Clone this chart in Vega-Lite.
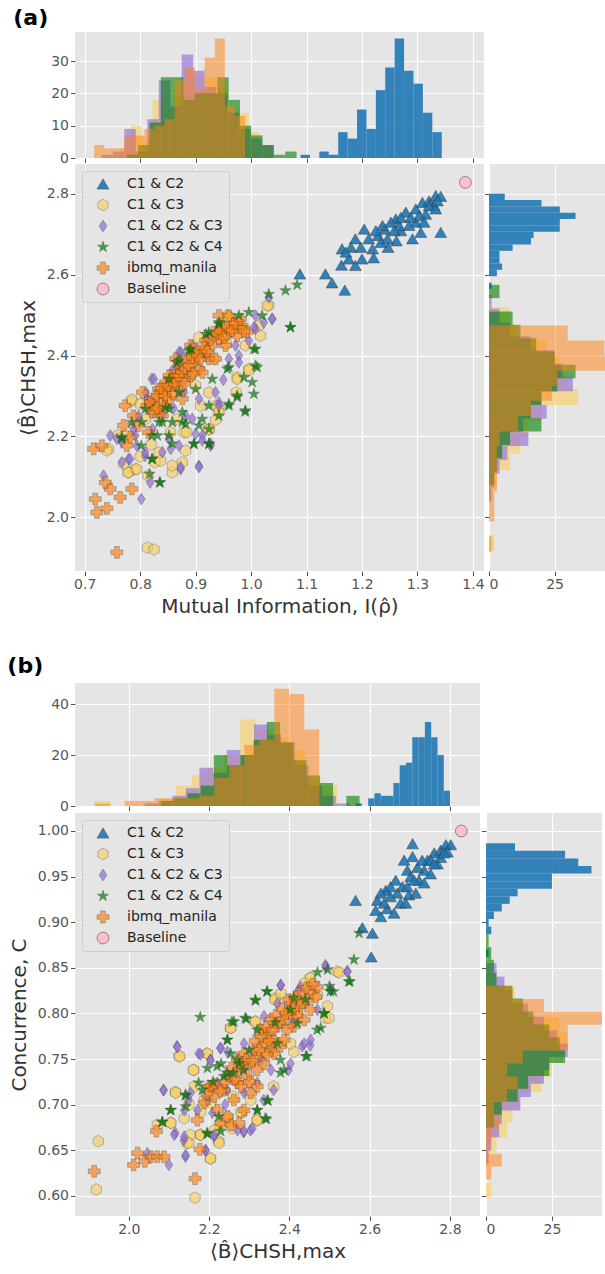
{
"$schema": "https://vega.github.io/schema/vega-lite/v6.json",
"background": "white",
"padding": {"left": 7, "top": 7, "right": 0, "bottom": 0},
"spacing": 38,
"config": {
 "font": "DejaVu Sans",
 "view": {"fill": "#e5e5e5", "stroke": null},
 "axis": {"domain": false, "grid": true, "gridColor": "#ffffff", "gridWidth": 1.1, "tickColor": "#555555", "tickSize": 4.5, "tickWidth": 1, "labelColor": "#555555", "labelFontSize": 14, "labelPadding": 2, "titleColor": "#333333", "titleFontSize": 20, "titleFontWeight": "normal", "labelFont": "DejaVu Sans", "titleFont": "DejaVu Sans"},
 "title": {"font": "DejaVu Sans"}
},
"resolve": {"scale": {"x": "independent", "y": "independent", "color": "independent", "shape": "independent", "opacity": "independent"}, "legend": {"color": "independent", "shape": "independent", "opacity": "independent"}},
"vconcat": [
{
 "title": {"text": "(a)", "anchor": "start", "fontSize": 22, "fontWeight": "bold", "color": "#000000", "dx": -5, "offset": 2},
 "columns": 2,
 "bounds": "flush",
 "spacing": {"row": 6, "column": 5},
 "resolve": {"scale": {"x": "independent", "y": "independent", "color": "independent", "shape": "independent", "opacity": "independent"}, "legend": {"color": "independent", "shape": "independent", "opacity": "independent"}},
 "concat": [
  {
   "width": 409, "height": 126,
   "data": {"name": "hMI"},
   "mark": {"type": "rect", "clip": true},
   "encoding": {
    "x": {"field": "a", "type": "quantitative", "scale": {"domain": [0.6825, 1.42], "nice": false, "zero": false}, "axis": {"values": [0.7, 0.8, 0.9, 1.0, 1.1, 1.2, 1.3, 1.4], "labels": false, "title": null}},
    "x2": {"field": "b"},
    "y": {"field": "n", "type": "quantitative", "scale": {"domain": [0, 39], "nice": false}, "axis": {"values": [0, 10, 20, 30], "title": null}},
    "y2": {"datum": 0},
    "color": {"field": "g", "type": "nominal", "scale": {"domain": ["C1 & C2", "C1 & C3", "C1 & C2 & C3", "C1 & C2 & C4", "ibmq_manila"], "range": ["#1f77b4", "#f7cf5a", "#9370db", "#008000", "#ff7f0e"]}, "legend": null},
    "opacity": {"field": "g", "type": "nominal", "scale": {"type": "ordinal", "domain": ["C1 & C2", "C1 & C3", "C1 & C2 & C3", "C1 & C2 & C4", "ibmq_manila"], "range": [0.9, 0.6, 0.65, 0.6, 0.5]}, "legend": null}
   }
  },
  {
   "width": 118, "height": 126,
   "view": {"fill": null, "stroke": null},
   "data": {"values": []},
   "mark": {"type": "point"},
   "encoding": {}
  },
  {
   "width": 409, "height": 407,
   "data": {"name": "sa"},
   "mark": {"type": "point", "filled": true, "size": 140, "stroke": "#333333", "strokeWidth": 0.5},
   "encoding": {
    "x": {"field": "x", "type": "quantitative", "scale": {"domain": [0.6825, 1.42], "nice": false, "zero": false}, "axis": {"values": [0.7, 0.8, 0.9, 1.0, 1.1, 1.2, 1.3, 1.4], "format": ".1f", "title": "Mutual Information, I(ρ̂)", "titlePadding": 5}},
    "y": {"field": "y", "type": "quantitative", "scale": {"domain": [1.867, 2.874], "nice": false, "zero": false}, "axis": {"values": [2.0, 2.2, 2.4, 2.6, 2.8], "format": ".1f", "title": "⟨B̂⟩CHSH,max", "titlePadding": 8}},
    "color": {"field": "g", "type": "nominal", "title": null, "scale": {"domain": ["C1 & C2", "C1 & C3", "C1 & C2 & C3", "C1 & C2 & C4", "ibmq_manila", "Baseline"], "range": ["#1f77b4", "#f7cf5a", "#9370db", "#008000", "#ff7f0e", "#ffc0cb"]}, "legend": {"orient": "top-left", "offset": 7, "padding": 6, "fillColor": "#e5e5e5", "strokeColor": "#cccccc", "cornerRadius": 3, "labelFontSize": 14, "labelColor": "#222222", "symbolSize": 140, "rowPadding": 7, "labelOffset": 17, "symbolOffset": 8, "symbolStrokeWidth": 0.5, "symbolStrokeColor": "#333333"}},
    "shape": {"field": "g", "type": "nominal", "title": null, "scale": {"domain": ["C1 & C2", "C1 & C3", "C1 & C2 & C3", "C1 & C2 & C4", "ibmq_manila", "Baseline"], "range": ["triangle-up", "M0,-1L0.866,-0.5L0.866,0.5L0,1L-0.866,0.5L-0.866,-0.5Z", "M0,-1L0.65,0L0,1L-0.65,0Z", "M0,-1L0.225,-0.309L0.951,-0.309L0.363,0.118L0.588,0.809L0,0.382L-0.588,0.809L-0.363,0.118L-0.951,-0.309L-0.225,-0.309Z", "cross", "circle"]}, "legend": {"orient": "top-left", "offset": 7, "padding": 6, "fillColor": "#e5e5e5", "strokeColor": "#cccccc", "cornerRadius": 3, "labelFontSize": 14, "labelColor": "#222222", "symbolSize": 140, "rowPadding": 7, "labelOffset": 17, "symbolOffset": 8, "symbolStrokeWidth": 0.5, "symbolStrokeColor": "#333333"}},
    "opacity": {"field": "g", "type": "nominal", "title": null, "scale": {"type": "ordinal", "domain": ["C1 & C2", "C1 & C3", "C1 & C2 & C3", "C1 & C2 & C4", "ibmq_manila", "Baseline"], "range": [0.9, 0.6, 0.7, 0.7, 0.65, 1]}, "legend": {"orient": "top-left", "offset": 7, "padding": 6, "fillColor": "#e5e5e5", "strokeColor": "#cccccc", "cornerRadius": 3, "labelFontSize": 14, "labelColor": "#222222", "symbolSize": 140, "rowPadding": 7, "labelOffset": 17, "symbolOffset": 8, "symbolStrokeWidth": 0.5, "symbolStrokeColor": "#333333"}}
   }
  },
  {
   "width": 118, "height": 407,
   "data": {"name": "hB"},
   "mark": {"type": "rect", "clip": true},
   "encoding": {
    "y": {"field": "a", "type": "quantitative", "scale": {"domain": [1.867, 2.874], "nice": false, "zero": false}, "axis": {"values": [2.0, 2.2, 2.4, 2.6, 2.8], "labels": false, "title": null}},
    "y2": {"field": "b"},
    "x": {"field": "n", "type": "quantitative", "scale": {"domain": [0, 45], "nice": false}, "axis": {"values": [0, 25], "title": null}},
    "x2": {"datum": 0},
    "color": {"field": "g", "type": "nominal", "scale": {"domain": ["C1 & C2", "C1 & C3", "C1 & C2 & C3", "C1 & C2 & C4", "ibmq_manila"], "range": ["#1f77b4", "#f7cf5a", "#9370db", "#008000", "#ff7f0e"]}, "legend": null},
    "opacity": {"field": "g", "type": "nominal", "scale": {"type": "ordinal", "domain": ["C1 & C2", "C1 & C3", "C1 & C2 & C3", "C1 & C2 & C4", "ibmq_manila"], "range": [0.9, 0.6, 0.65, 0.6, 0.5]}, "legend": null}
   }
  }
 ]
},
{
 "title": {"text": "(b)", "anchor": "start", "fontSize": 22, "fontWeight": "bold", "color": "#000000", "dx": -2, "offset": 5},
 "columns": 2,
 "bounds": "flush",
 "spacing": {"row": 7, "column": 6},
 "resolve": {"scale": {"x": "independent", "y": "independent", "color": "independent", "shape": "independent", "opacity": "independent"}, "legend": {"color": "independent", "shape": "independent", "opacity": "independent"}},
 "concat": [
  {
   "width": 405, "height": 123,
   "data": {"name": "hB"},
   "mark": {"type": "rect", "clip": true},
   "encoding": {
    "x": {"field": "a", "type": "quantitative", "scale": {"domain": [1.866, 2.875], "nice": false, "zero": false}, "axis": {"values": [2.0, 2.2, 2.4, 2.6, 2.8], "labels": false, "title": null}},
    "x2": {"field": "b"},
    "y": {"field": "n", "type": "quantitative", "scale": {"domain": [0, 48.3], "nice": false}, "axis": {"values": [0, 20, 40], "title": null}},
    "y2": {"datum": 0},
    "color": {"field": "g", "type": "nominal", "scale": {"domain": ["C1 & C2", "C1 & C3", "C1 & C2 & C3", "C1 & C2 & C4", "ibmq_manila"], "range": ["#1f77b4", "#f7cf5a", "#9370db", "#008000", "#ff7f0e"]}, "legend": null},
    "opacity": {"field": "g", "type": "nominal", "scale": {"type": "ordinal", "domain": ["C1 & C2", "C1 & C3", "C1 & C2 & C3", "C1 & C2 & C4", "ibmq_manila"], "range": [0.9, 0.6, 0.65, 0.6, 0.5]}, "legend": null}
   }
  },
  {
   "width": 116, "height": 123,
   "view": {"fill": null, "stroke": null},
   "data": {"values": []},
   "mark": {"type": "point"},
   "encoding": {}
  },
  {
   "width": 405, "height": 403,
   "data": {"name": "sb"},
   "mark": {"type": "point", "filled": true, "size": 140, "stroke": "#333333", "strokeWidth": 0.5},
   "encoding": {
    "x": {"field": "x", "type": "quantitative", "scale": {"domain": [1.866, 2.875], "nice": false, "zero": false}, "axis": {"values": [2.0, 2.2, 2.4, 2.6, 2.8], "format": ".1f", "title": "⟨B̂⟩CHSH,max", "titlePadding": 5}},
    "y": {"field": "y", "type": "quantitative", "scale": {"domain": [0.578, 1.0197], "nice": false, "zero": false}, "axis": {"values": [0.6, 0.65, 0.7, 0.75, 0.8, 0.85, 0.9, 0.95, 1.0], "format": ".2f", "title": "Concurrence, C", "titlePadding": 8}},
    "color": {"field": "g", "type": "nominal", "title": null, "scale": {"domain": ["C1 & C2", "C1 & C3", "C1 & C2 & C3", "C1 & C2 & C4", "ibmq_manila", "Baseline"], "range": ["#1f77b4", "#f7cf5a", "#9370db", "#008000", "#ff7f0e", "#ffc0cb"]}, "legend": {"orient": "top-left", "offset": 7, "padding": 6, "fillColor": "#e5e5e5", "strokeColor": "#cccccc", "cornerRadius": 3, "labelFontSize": 14, "labelColor": "#222222", "symbolSize": 140, "rowPadding": 7, "labelOffset": 17, "symbolOffset": 8, "symbolStrokeWidth": 0.5, "symbolStrokeColor": "#333333"}},
    "shape": {"field": "g", "type": "nominal", "title": null, "scale": {"domain": ["C1 & C2", "C1 & C3", "C1 & C2 & C3", "C1 & C2 & C4", "ibmq_manila", "Baseline"], "range": ["triangle-up", "M0,-1L0.866,-0.5L0.866,0.5L0,1L-0.866,0.5L-0.866,-0.5Z", "M0,-1L0.65,0L0,1L-0.65,0Z", "M0,-1L0.225,-0.309L0.951,-0.309L0.363,0.118L0.588,0.809L0,0.382L-0.588,0.809L-0.363,0.118L-0.951,-0.309L-0.225,-0.309Z", "cross", "circle"]}, "legend": {"orient": "top-left", "offset": 7, "padding": 6, "fillColor": "#e5e5e5", "strokeColor": "#cccccc", "cornerRadius": 3, "labelFontSize": 14, "labelColor": "#222222", "symbolSize": 140, "rowPadding": 7, "labelOffset": 17, "symbolOffset": 8, "symbolStrokeWidth": 0.5, "symbolStrokeColor": "#333333"}},
    "opacity": {"field": "g", "type": "nominal", "title": null, "scale": {"type": "ordinal", "domain": ["C1 & C2", "C1 & C3", "C1 & C2 & C3", "C1 & C2 & C4", "ibmq_manila", "Baseline"], "range": [0.9, 0.6, 0.7, 0.7, 0.65, 1]}, "legend": {"orient": "top-left", "offset": 7, "padding": 6, "fillColor": "#e5e5e5", "strokeColor": "#cccccc", "cornerRadius": 3, "labelFontSize": 14, "labelColor": "#222222", "symbolSize": 140, "rowPadding": 7, "labelOffset": 17, "symbolOffset": 8, "symbolStrokeWidth": 0.5, "symbolStrokeColor": "#333333"}}
   }
  },
  {
   "width": 116, "height": 403,
   "data": {"name": "hC"},
   "mark": {"type": "rect", "clip": true},
   "encoding": {
    "y": {"field": "a", "type": "quantitative", "scale": {"domain": [0.578, 1.0197], "nice": false, "zero": false}, "axis": {"values": [0.6, 0.65, 0.7, 0.75, 0.8, 0.85, 0.9, 0.95, 1.0], "labels": false, "title": null}},
    "y2": {"field": "b"},
    "x": {"field": "n", "type": "quantitative", "scale": {"domain": [0, 44], "nice": false}, "axis": {"values": [0, 25], "title": null}},
    "x2": {"datum": 0},
    "color": {"field": "g", "type": "nominal", "scale": {"domain": ["C1 & C2", "C1 & C3", "C1 & C2 & C3", "C1 & C2 & C4", "ibmq_manila"], "range": ["#1f77b4", "#f7cf5a", "#9370db", "#008000", "#ff7f0e"]}, "legend": null},
    "opacity": {"field": "g", "type": "nominal", "scale": {"type": "ordinal", "domain": ["C1 & C2", "C1 & C3", "C1 & C2 & C3", "C1 & C2 & C4", "ibmq_manila"], "range": [0.9, 0.6, 0.65, 0.6, 0.5]}, "legend": null}
   }
  }
 ]
}
],
"datasets": {
"hMI": [
{"g":"C1 & C2","a":1.0892,"b":1.1062,"n":1},{"g":"C1 & C2","a":1.1231,"b":1.1401,"n":2},{"g":"C1 & C2","a":1.1401,"b":1.1571,"n":1},{"g":"C1 & C2","a":1.1571,"b":1.174,"n":8},{"g":"C1 & C2","a":1.174,"b":1.191,"n":6},{"g":"C1 & C2","a":1.191,"b":1.208,"n":15},{"g":"C1 & C2","a":1.208,"b":1.225,"n":9},{"g":"C1 & C2","a":1.225,"b":1.2419,"n":21},{"g":"C1 & C2","a":1.2419,"b":1.2589,"n":28},{"g":"C1 & C2","a":1.2589,"b":1.2759,"n":37},{"g":"C1 & C2","a":1.2759,"b":1.2928,"n":27},{"g":"C1 & C2","a":1.2928,"b":1.3098,"n":23},{"g":"C1 & C2","a":1.3098,"b":1.3268,"n":14},{"g":"C1 & C2","a":1.3268,"b":1.3438,"n":8},
{"g":"C1 & C3","a":0.745,"b":0.7643,"n":1},{"g":"C1 & C3","a":0.7643,"b":0.7836,"n":3},{"g":"C1 & C3","a":0.7836,"b":0.8029,"n":10},{"g":"C1 & C3","a":0.8029,"b":0.8222,"n":6},{"g":"C1 & C3","a":0.8222,"b":0.8415,"n":18},{"g":"C1 & C3","a":0.8415,"b":0.8608,"n":15},{"g":"C1 & C3","a":0.8608,"b":0.8801,"n":20},{"g":"C1 & C3","a":0.8801,"b":0.8994,"n":24},{"g":"C1 & C3","a":0.8994,"b":0.9187,"n":26},{"g":"C1 & C3","a":0.9187,"b":0.938,"n":25},{"g":"C1 & C3","a":0.938,"b":0.9573,"n":22},{"g":"C1 & C3","a":0.9573,"b":0.9766,"n":14},{"g":"C1 & C3","a":0.9766,"b":0.9959,"n":14},{"g":"C1 & C3","a":0.9959,"b":1.0152,"n":8},{"g":"C1 & C3","a":1.0152,"b":1.0345,"n":4},
{"g":"C1 & C2 & C3","a":0.73,"b":0.7507,"n":1},{"g":"C1 & C2 & C3","a":0.7507,"b":0.7714,"n":2},{"g":"C1 & C2 & C3","a":0.7714,"b":0.7921,"n":9},{"g":"C1 & C2 & C3","a":0.7921,"b":0.8128,"n":2},{"g":"C1 & C2 & C3","a":0.8128,"b":0.8335,"n":12},{"g":"C1 & C2 & C3","a":0.8335,"b":0.8542,"n":24},{"g":"C1 & C2 & C3","a":0.8542,"b":0.8749,"n":16},{"g":"C1 & C2 & C3","a":0.8749,"b":0.8956,"n":32},{"g":"C1 & C2 & C3","a":0.8956,"b":0.9163,"n":27},{"g":"C1 & C2 & C3","a":0.9163,"b":0.937,"n":22},{"g":"C1 & C2 & C3","a":0.937,"b":0.9577,"n":20},{"g":"C1 & C2 & C3","a":0.9577,"b":0.9784,"n":14},{"g":"C1 & C2 & C3","a":0.9784,"b":0.9991,"n":9},{"g":"C1 & C2 & C3","a":0.9991,"b":1.0198,"n":6},{"g":"C1 & C2 & C3","a":1.0198,"b":1.0405,"n":4},
{"g":"C1 & C2 & C4","a":0.776,"b":0.7964,"n":1},{"g":"C1 & C2 & C4","a":0.7964,"b":0.8168,"n":4},{"g":"C1 & C2 & C4","a":0.8168,"b":0.8372,"n":11},{"g":"C1 & C2 & C4","a":0.8372,"b":0.8576,"n":25},{"g":"C1 & C2 & C4","a":0.8576,"b":0.878,"n":25},{"g":"C1 & C2 & C4","a":0.878,"b":0.8984,"n":18},{"g":"C1 & C2 & C4","a":0.8984,"b":0.9188,"n":20},{"g":"C1 & C2 & C4","a":0.9188,"b":0.9392,"n":20},{"g":"C1 & C2 & C4","a":0.9392,"b":0.9596,"n":25},{"g":"C1 & C2 & C4","a":0.9596,"b":0.98,"n":18},{"g":"C1 & C2 & C4","a":0.98,"b":1.0004,"n":10},{"g":"C1 & C2 & C4","a":1.0004,"b":1.0208,"n":7},{"g":"C1 & C2 & C4","a":1.0208,"b":1.0412,"n":4},{"g":"C1 & C2 & C4","a":1.0412,"b":1.0616,"n":1},{"g":"C1 & C2 & C4","a":1.0616,"b":1.082,"n":2},
{"g":"ibmq_manila","a":0.717,"b":0.7351,"n":4},{"g":"ibmq_manila","a":0.7351,"b":0.7533,"n":3},{"g":"ibmq_manila","a":0.7533,"b":0.7714,"n":3},{"g":"ibmq_manila","a":0.7714,"b":0.7895,"n":7},{"g":"ibmq_manila","a":0.7895,"b":0.8077,"n":7},{"g":"ibmq_manila","a":0.8077,"b":0.8258,"n":9},{"g":"ibmq_manila","a":0.8258,"b":0.8439,"n":10},{"g":"ibmq_manila","a":0.8439,"b":0.862,"n":12},{"g":"ibmq_manila","a":0.862,"b":0.8802,"n":24},{"g":"ibmq_manila","a":0.8802,"b":0.8983,"n":28},{"g":"ibmq_manila","a":0.8983,"b":0.9164,"n":21},{"g":"ibmq_manila","a":0.9164,"b":0.9346,"n":31},{"g":"ibmq_manila","a":0.9346,"b":0.9527,"n":37},{"g":"ibmq_manila","a":0.9527,"b":0.9708,"n":16},{"g":"ibmq_manila","a":0.9708,"b":0.989,"n":13}
],
"hB": [
{"g":"C1 & C2","a":2.565,"b":2.5807,"n":1},{"g":"C1 & C2","a":2.5964,"b":2.6121,"n":3},{"g":"C1 & C2","a":2.6121,"b":2.6278,"n":5},{"g":"C1 & C2","a":2.6278,"b":2.6435,"n":4},{"g":"C1 & C2","a":2.6435,"b":2.6592,"n":4},{"g":"C1 & C2","a":2.6592,"b":2.6749,"n":9},{"g":"C1 & C2","a":2.6749,"b":2.6906,"n":16},{"g":"C1 & C2","a":2.6906,"b":2.7063,"n":17},{"g":"C1 & C2","a":2.7063,"b":2.722,"n":27},{"g":"C1 & C2","a":2.722,"b":2.7377,"n":27},{"g":"C1 & C2","a":2.7377,"b":2.7534,"n":33},{"g":"C1 & C2","a":2.7534,"b":2.7691,"n":27},{"g":"C1 & C2","a":2.7691,"b":2.7848,"n":20},{"g":"C1 & C2","a":2.7848,"b":2.8005,"n":6},
{"g":"C1 & C3","a":1.915,"b":1.9553,"n":2},{"g":"C1 & C3","a":2.0359,"b":2.0762,"n":1},{"g":"C1 & C3","a":2.0762,"b":2.1165,"n":3},{"g":"C1 & C3","a":2.1165,"b":2.1568,"n":8},{"g":"C1 & C3","a":2.1568,"b":2.1971,"n":12},{"g":"C1 & C3","a":2.1971,"b":2.2374,"n":15},{"g":"C1 & C3","a":2.2374,"b":2.2777,"n":20},{"g":"C1 & C3","a":2.2777,"b":2.318,"n":34},{"g":"C1 & C3","a":2.318,"b":2.3583,"n":30},{"g":"C1 & C3","a":2.3583,"b":2.3986,"n":27},{"g":"C1 & C3","a":2.3986,"b":2.4389,"n":22},{"g":"C1 & C3","a":2.4389,"b":2.4792,"n":10},{"g":"C1 & C3","a":2.4792,"b":2.5195,"n":8},
{"g":"C1 & C2 & C3","a":2.04,"b":2.074,"n":1},{"g":"C1 & C2 & C3","a":2.074,"b":2.108,"n":2},{"g":"C1 & C2 & C3","a":2.108,"b":2.142,"n":4},{"g":"C1 & C2 & C3","a":2.142,"b":2.176,"n":7},{"g":"C1 & C2 & C3","a":2.176,"b":2.21,"n":15},{"g":"C1 & C2 & C3","a":2.21,"b":2.244,"n":13},{"g":"C1 & C2 & C3","a":2.244,"b":2.278,"n":22},{"g":"C1 & C2 & C3","a":2.278,"b":2.312,"n":20},{"g":"C1 & C2 & C3","a":2.312,"b":2.346,"n":32},{"g":"C1 & C2 & C3","a":2.346,"b":2.38,"n":28},{"g":"C1 & C2 & C3","a":2.38,"b":2.414,"n":25},{"g":"C1 & C2 & C3","a":2.414,"b":2.448,"n":16},{"g":"C1 & C2 & C3","a":2.448,"b":2.482,"n":8},{"g":"C1 & C2 & C3","a":2.482,"b":2.516,"n":4},{"g":"C1 & C2 & C3","a":2.516,"b":2.55,"n":1},
{"g":"C1 & C2 & C4","a":2.08,"b":2.113,"n":2},{"g":"C1 & C2 & C4","a":2.113,"b":2.146,"n":3},{"g":"C1 & C2 & C4","a":2.146,"b":2.179,"n":5},{"g":"C1 & C2 & C4","a":2.179,"b":2.212,"n":8},{"g":"C1 & C2 & C4","a":2.212,"b":2.245,"n":20},{"g":"C1 & C2 & C4","a":2.245,"b":2.278,"n":16},{"g":"C1 & C2 & C4","a":2.278,"b":2.311,"n":20},{"g":"C1 & C2 & C4","a":2.311,"b":2.344,"n":26},{"g":"C1 & C2 & C4","a":2.344,"b":2.377,"n":33},{"g":"C1 & C2 & C4","a":2.377,"b":2.41,"n":25},{"g":"C1 & C2 & C4","a":2.41,"b":2.443,"n":18},{"g":"C1 & C2 & C4","a":2.443,"b":2.476,"n":12},{"g":"C1 & C2 & C4","a":2.476,"b":2.509,"n":9},{"g":"C1 & C2 & C4","a":2.542,"b":2.575,"n":4},
{"g":"ibmq_manila","a":1.915,"b":1.9523,"n":1},{"g":"ibmq_manila","a":1.9896,"b":2.0269,"n":2},{"g":"ibmq_manila","a":2.0269,"b":2.0642,"n":2},{"g":"ibmq_manila","a":2.0642,"b":2.1015,"n":3},{"g":"ibmq_manila","a":2.1015,"b":2.1388,"n":3},{"g":"ibmq_manila","a":2.1388,"b":2.1761,"n":3},{"g":"ibmq_manila","a":2.1761,"b":2.2134,"n":4},{"g":"ibmq_manila","a":2.2134,"b":2.2507,"n":11},{"g":"ibmq_manila","a":2.2507,"b":2.288,"n":16},{"g":"ibmq_manila","a":2.288,"b":2.3253,"n":24},{"g":"ibmq_manila","a":2.3253,"b":2.3626,"n":26},{"g":"ibmq_manila","a":2.3626,"b":2.3999,"n":46},{"g":"ibmq_manila","a":2.3999,"b":2.4372,"n":44},{"g":"ibmq_manila","a":2.4372,"b":2.4745,"n":30}
],
"hC": [
{"g":"C1 & C2","a":0.862,"b":0.8703,"n":1},{"g":"C1 & C2","a":0.8869,"b":0.8952,"n":2},{"g":"C1 & C2","a":0.8952,"b":0.9035,"n":1},{"g":"C1 & C2","a":0.9035,"b":0.9118,"n":3},{"g":"C1 & C2","a":0.9118,"b":0.9201,"n":6},{"g":"C1 & C2","a":0.9201,"b":0.9284,"n":9},{"g":"C1 & C2","a":0.9284,"b":0.9367,"n":12},{"g":"C1 & C2","a":0.9367,"b":0.945,"n":25},{"g":"C1 & C2","a":0.945,"b":0.9533,"n":25},{"g":"C1 & C2","a":0.9533,"b":0.9616,"n":40},{"g":"C1 & C2","a":0.9616,"b":0.9699,"n":35},{"g":"C1 & C2","a":0.9699,"b":0.9782,"n":30},{"g":"C1 & C2","a":0.9782,"b":0.9865,"n":11},
{"g":"C1 & C3","a":0.598,"b":0.6145,"n":2},{"g":"C1 & C3","a":0.631,"b":0.6475,"n":1},{"g":"C1 & C3","a":0.6475,"b":0.664,"n":4},{"g":"C1 & C3","a":0.664,"b":0.6805,"n":8},{"g":"C1 & C3","a":0.6805,"b":0.697,"n":10},{"g":"C1 & C3","a":0.697,"b":0.7135,"n":13},{"g":"C1 & C3","a":0.7135,"b":0.73,"n":21},{"g":"C1 & C3","a":0.73,"b":0.7465,"n":25},{"g":"C1 & C3","a":0.7465,"b":0.763,"n":29},{"g":"C1 & C3","a":0.763,"b":0.7795,"n":31},{"g":"C1 & C3","a":0.7795,"b":0.796,"n":28},{"g":"C1 & C3","a":0.796,"b":0.8125,"n":15},{"g":"C1 & C3","a":0.8125,"b":0.829,"n":11},{"g":"C1 & C3","a":0.829,"b":0.8455,"n":2},
{"g":"C1 & C2 & C3","a":0.635,"b":0.6497,"n":1},{"g":"C1 & C2 & C3","a":0.6497,"b":0.6643,"n":2},{"g":"C1 & C2 & C3","a":0.6643,"b":0.679,"n":5},{"g":"C1 & C2 & C3","a":0.679,"b":0.6937,"n":6},{"g":"C1 & C2 & C3","a":0.6937,"b":0.7084,"n":13},{"g":"C1 & C2 & C3","a":0.7084,"b":0.723,"n":17},{"g":"C1 & C2 & C3","a":0.723,"b":0.7377,"n":22},{"g":"C1 & C2 & C3","a":0.7377,"b":0.7524,"n":24},{"g":"C1 & C2 & C3","a":0.7524,"b":0.767,"n":31},{"g":"C1 & C2 & C3","a":0.767,"b":0.7817,"n":27},{"g":"C1 & C2 & C3","a":0.7817,"b":0.7964,"n":22},{"g":"C1 & C2 & C3","a":0.7964,"b":0.811,"n":16},{"g":"C1 & C2 & C3","a":0.811,"b":0.8257,"n":10},{"g":"C1 & C2 & C3","a":0.8257,"b":0.8404,"n":7},{"g":"C1 & C2 & C3","a":0.8404,"b":0.8551,"n":4},
{"g":"C1 & C2 & C4","a":0.675,"b":0.6891,"n":3},{"g":"C1 & C2 & C4","a":0.6891,"b":0.7033,"n":6},{"g":"C1 & C2 & C4","a":0.7033,"b":0.7174,"n":12},{"g":"C1 & C2 & C4","a":0.7174,"b":0.7315,"n":16},{"g":"C1 & C2 & C4","a":0.7315,"b":0.7457,"n":24},{"g":"C1 & C2 & C4","a":0.7457,"b":0.7598,"n":30},{"g":"C1 & C2 & C4","a":0.7598,"b":0.7739,"n":28},{"g":"C1 & C2 & C4","a":0.7739,"b":0.788,"n":24},{"g":"C1 & C2 & C4","a":0.788,"b":0.8022,"n":18},{"g":"C1 & C2 & C4","a":0.8022,"b":0.8163,"n":14},{"g":"C1 & C2 & C4","a":0.8163,"b":0.8304,"n":10},{"g":"C1 & C2 & C4","a":0.8304,"b":0.8446,"n":4},{"g":"C1 & C2 & C4","a":0.8446,"b":0.8587,"n":3},{"g":"C1 & C2 & C4","a":0.8587,"b":0.8728,"n":2},{"g":"C1 & C2 & C4","a":0.8728,"b":0.887,"n":1},
{"g":"ibmq_manila","a":0.618,"b":0.6321,"n":2},{"g":"ibmq_manila","a":0.6321,"b":0.6463,"n":6},{"g":"ibmq_manila","a":0.6463,"b":0.6604,"n":1},{"g":"ibmq_manila","a":0.6604,"b":0.6745,"n":2},{"g":"ibmq_manila","a":0.6745,"b":0.6887,"n":5},{"g":"ibmq_manila","a":0.6887,"b":0.7028,"n":3},{"g":"ibmq_manila","a":0.7028,"b":0.7169,"n":8},{"g":"ibmq_manila","a":0.7169,"b":0.731,"n":12},{"g":"ibmq_manila","a":0.731,"b":0.7452,"n":8},{"g":"ibmq_manila","a":0.7452,"b":0.7593,"n":14},{"g":"ibmq_manila","a":0.7593,"b":0.7734,"n":31},{"g":"ibmq_manila","a":0.7734,"b":0.7876,"n":31},{"g":"ibmq_manila","a":0.7876,"b":0.8017,"n":45},{"g":"ibmq_manila","a":0.8017,"b":0.8158,"n":22},{"g":"ibmq_manila","a":0.8158,"b":0.83,"n":10}
],
"sa": [
{"g":"C1 & C2","x":1.088,"y":2.602},{"g":"C1 & C2","x":1.134,"y":2.602},{"g":"C1 & C2","x":1.146,"y":2.58},{"g":"C1 & C2","x":1.169,"y":2.562},{"g":"C1 & C2","x":1.164,"y":2.664},{"g":"C1 & C2","x":1.163,"y":2.624},{"g":"C1 & C2","x":1.176,"y":2.639},{"g":"C1 & C2","x":1.188,"y":2.623},{"g":"C1 & C2","x":1.2,"y":2.639},{"g":"C1 & C2","x":1.221,"y":2.642},{"g":"C1 & C2","x":1.204,"y":2.713},{"g":"C1 & C2","x":1.188,"y":2.689},{"g":"C1 & C2","x":1.212,"y":2.689},{"g":"C1 & C2","x":1.229,"y":2.697},{"g":"C1 & C2","x":1.241,"y":2.713},{"g":"C1 & C2","x":1.247,"y":2.668},{"g":"C1 & C2","x":1.262,"y":2.684},{"g":"C1 & C2","x":1.27,"y":2.709},{"g":"C1 & C2","x":1.291,"y":2.689},{"g":"C1 & C2","x":1.306,"y":2.705},{"g":"C1 & C2","x":1.342,"y":2.705},{"g":"C1 & C2","x":1.261,"y":2.738},{"g":"C1 & C2","x":1.279,"y":2.755},{"g":"C1 & C2","x":1.297,"y":2.763},{"g":"C1 & C2","x":1.309,"y":2.779},{"g":"C1 & C2","x":1.321,"y":2.783},{"g":"C1 & C2","x":1.333,"y":2.796},{"g":"C1 & C2","x":1.342,"y":2.794},{"g":"C1 & C2","x":1.315,"y":2.75},{"g":"C1 & C2","x":1.297,"y":2.73},{"g":"C1 & C2","x":1.285,"y":2.722},{"g":"C1 & C2","x":1.267,"y":2.722},{"g":"C1 & C2","x":1.252,"y":2.73},{"g":"C1 & C2","x":1.237,"y":2.722},{"g":"C1 & C2","x":1.225,"y":2.709},{"g":"C1 & C2","x":1.234,"y":2.68},{"g":"C1 & C2","x":1.219,"y":2.664},{"g":"C1 & C2","x":1.33,"y":2.771},{"g":"C1 & C2","x":1.321,"y":2.771},{"g":"C1 & C2","x":1.303,"y":2.746},{"g":"C1 & C2","x":1.288,"y":2.742},{"g":"C1 & C2","x":1.27,"y":2.742},{"g":"C1 & C2","x":1.258,"y":2.709},{"g":"C1 & C2","x":1.246,"y":2.689},{"g":"C1 & C2","x":1.312,"y":2.73},{"g":"C1 & C2","x":1.333,"y":2.763},{"g":"C1 & C2","x":1.198,"y":2.668},{"g":"C1 & C2","x":1.18,"y":2.668},{"g":"C1 & C2","x":1.171,"y":2.656},{"g":"C1 & C2","x":1.336,"y":2.783},
{"g":"C1 & C3","x":0.785,"y":2.288},{"g":"C1 & C3","x":0.743,"y":2.169},{"g":"C1 & C3","x":0.779,"y":2.111},{"g":"C1 & C3","x":0.834,"y":2.16},{"g":"C1 & C3","x":0.879,"y":2.21},{"g":"C1 & C3","x":0.957,"y":2.499},{"g":"C1 & C3","x":1.032,"y":2.524},{"g":"C1 & C3","x":0.996,"y":2.367},{"g":"C1 & C3","x":0.975,"y":2.346},{"g":"C1 & C3","x":0.942,"y":2.268},{"g":"C1 & C3","x":0.924,"y":2.218},{"g":"C1 & C3","x":0.876,"y":2.136},{"g":"C1 & C3","x":0.791,"y":2.119},{"g":"C1 & C3","x":0.858,"y":2.111},{"g":"C1 & C3","x":0.827,"y":2.136},
{"g":"C1 & C3","x":0.813,"y":1.925},{"g":"C1 & C3","x":0.825,"y":1.92},{"g":"C1 & C3","x":0.74,"y":2.165},{"g":"C1 & C3","x":0.778,"y":2.111},{"g":"C1 & C3","x":0.794,"y":2.119},{"g":"C1 & C3","x":0.77,"y":2.132},{"g":"C1 & C3","x":0.814,"y":2.103},{"g":"C1 & C3","x":0.858,"y":2.128},{"g":"C1 & C3","x":0.837,"y":2.14},{"g":"C1 & C3","x":0.882,"y":2.165},{"g":"C1 & C3","x":0.855,"y":2.21},{"g":"C1 & C3","x":0.884,"y":2.21},{"g":"C1 & C3","x":0.924,"y":2.217},{"g":"C1 & C3","x":0.936,"y":2.241},{"g":"C1 & C3","x":0.909,"y":2.276},{"g":"C1 & C3","x":0.936,"y":2.276},{"g":"C1 & C3","x":0.975,"y":2.342},{"g":"C1 & C3","x":0.996,"y":2.363},{"g":"C1 & C3","x":1.017,"y":2.449},{"g":"C1 & C3","x":1.029,"y":2.524},{"g":"C1 & C3","x":0.959,"y":2.495},{"g":"C1 & C3","x":0.785,"y":2.291},{"g":"C1 & C3","x":0.8,"y":2.28},{"g":"C1 & C3","x":0.76,"y":2.203},{"g":"C1 & C3","x":0.773,"y":2.203},{"g":"C1 & C3","x":0.906,"y":2.445},{"g":"C1 & C3","x":0.888,"y":2.408},{"g":"C1 & C3","x":0.973,"y":2.309},{"g":"C1 & C3","x":0.924,"y":2.309},{"g":"C1 & C3","x":0.834,"y":2.26},{"g":"C1 & C3","x":0.866,"y":2.243},{"g":"C1 & C3","x":0.9,"y":2.326},{"g":"C1 & C3","x":0.933,"y":2.392},{"g":"C1 & C3","x":0.99,"y":2.425},{"g":"C1 & C3","x":0.942,"y":2.26},{"g":"C1 & C3","x":0.81,"y":2.243},{"g":"C1 & C3","x":0.846,"y":2.309},{"g":"C1 & C3","x":1.014,"y":2.474},{"g":"C1 & C3","x":0.87,"y":2.392},{"g":"C1 & C3","x":0.955,"y":2.43},{"g":"C1 & C3","x":0.98,"y":2.47},{"g":"C1 & C3","x":0.82,"y":2.18},{"g":"C1 & C3","x":0.8,"y":2.15},
{"g":"C1 & C2 & C3","x":0.873,"y":2.408},{"g":"C1 & C2 & C3","x":0.821,"y":2.342},{"g":"C1 & C2 & C3","x":0.813,"y":2.293},{"g":"C1 & C2 & C3","x":0.791,"y":2.202},{"g":"C1 & C2 & C3","x":0.767,"y":2.186},{"g":"C1 & C2 & C3","x":0.779,"y":2.144},{"g":"C1 & C2 & C3","x":0.809,"y":2.152},{"g":"C1 & C2 & C3","x":0.855,"y":2.169},{"g":"C1 & C2 & C3","x":0.873,"y":2.119},{"g":"C1 & C2 & C3","x":0.906,"y":2.127},{"g":"C1 & C2 & C3","x":0.912,"y":2.202},{"g":"C1 & C2 & C3","x":0.927,"y":2.177},{"g":"C1 & C2 & C3","x":0.882,"y":2.251},{"g":"C1 & C2 & C3","x":0.942,"y":2.284},{"g":"C1 & C2 & C3","x":0.978,"y":2.4},{"g":"C1 & C2 & C3","x":1.008,"y":2.466},{"g":"C1 & C2 & C3","x":1.038,"y":2.491},{"g":"C1 & C2 & C3","x":0.867,"y":2.367},{"g":"C1 & C2 & C3","x":0.894,"y":2.425},
{"g":"C1 & C2 & C3","x":0.734,"y":2.103},{"g":"C1 & C2 & C3","x":0.802,"y":2.045},{"g":"C1 & C2 & C3","x":0.818,"y":2.086},{"g":"C1 & C2 & C3","x":0.782,"y":2.144},{"g":"C1 & C2 & C3","x":0.767,"y":2.136},{"g":"C1 & C2 & C3","x":0.758,"y":2.194},{"g":"C1 & C2 & C3","x":0.794,"y":2.177},{"g":"C1 & C2 & C3","x":0.809,"y":2.161},{"g":"C1 & C2 & C3","x":0.84,"y":2.161},{"g":"C1 & C2 & C3","x":0.873,"y":2.124},{"g":"C1 & C2 & C3","x":0.906,"y":2.124},{"g":"C1 & C2 & C3","x":0.912,"y":2.19},{"g":"C1 & C2 & C3","x":0.927,"y":2.182},{"g":"C1 & C2 & C3","x":0.9,"y":2.206},{"g":"C1 & C2 & C3","x":0.87,"y":2.177},{"g":"C1 & C2 & C3","x":0.852,"y":2.194},{"g":"C1 & C2 & C3","x":0.942,"y":2.276},{"g":"C1 & C2 & C3","x":0.936,"y":2.309},{"g":"C1 & C2 & C3","x":0.96,"y":2.392},{"g":"C1 & C2 & C3","x":0.972,"y":2.425},{"g":"C1 & C2 & C3","x":0.996,"y":2.437},{"g":"C1 & C2 & C3","x":1.023,"y":2.482},{"g":"C1 & C2 & C3","x":1.038,"y":2.49},{"g":"C1 & C2 & C3","x":1.032,"y":2.544},{"g":"C1 & C2 & C3","x":1.005,"y":2.47},{"g":"C1 & C2 & C3","x":0.918,"y":2.4},{"g":"C1 & C2 & C3","x":0.87,"y":2.408},{"g":"C1 & C2 & C3","x":0.825,"y":2.342},{"g":"C1 & C2 & C3","x":0.81,"y":2.309},{"g":"C1 & C2 & C3","x":0.858,"y":2.363},{"g":"C1 & C2 & C3","x":0.888,"y":2.358},{"g":"C1 & C2 & C3","x":0.894,"y":2.243},{"g":"C1 & C2 & C3","x":0.84,"y":2.251},{"g":"C1 & C2 & C3","x":0.822,"y":2.218},{"g":"C1 & C2 & C3","x":0.797,"y":2.251},{"g":"C1 & C2 & C3","x":0.978,"y":2.383},{"g":"C1 & C2 & C3","x":1.008,"y":2.499},{"g":"C1 & C2 & C3","x":0.788,"y":2.218},{"g":"C1 & C2 & C3","x":0.746,"y":2.202},{"g":"C1 & C2 & C3","x":0.879,"y":2.309},{"g":"C1 & C2 & C3","x":0.906,"y":2.293},{"g":"C1 & C2 & C3","x":0.924,"y":2.441},{"g":"C1 & C2 & C3","x":0.822,"y":2.284},{"g":"C1 & C2 & C3","x":0.95,"y":2.34},{"g":"C1 & C2 & C3","x":0.86,"y":2.27},
{"g":"ibmq_manila","x":0.758,"y":1.913},{"g":"ibmq_manila","x":0.722,"y":2.012},{"g":"ibmq_manila","x":0.74,"y":2.022},{"g":"ibmq_manila","x":0.719,"y":2.045},{"g":"ibmq_manila","x":0.764,"y":2.049},{"g":"ibmq_manila","x":0.785,"y":2.07},{"g":"ibmq_manila","x":0.746,"y":2.07},{"g":"ibmq_manila","x":0.737,"y":2.086},{"g":"ibmq_manila","x":0.716,"y":2.169},{"g":"ibmq_manila","x":0.731,"y":2.177},{"g":"ibmq_manila","x":0.776,"y":2.177},{"g":"ibmq_manila","x":0.782,"y":2.198},{"g":"ibmq_manila","x":0.77,"y":2.227},{"g":"ibmq_manila","x":0.773,"y":2.276},{"g":"ibmq_manila","x":0.788,"y":2.251},
{"g":"ibmq_manila","x":0.812,"y":2.276},{"g":"ibmq_manila","x":0.824,"y":2.293},{"g":"ibmq_manila","x":0.821,"y":2.26},{"g":"ibmq_manila","x":0.833,"y":2.317},{"g":"ibmq_manila","x":0.836,"y":2.284},{"g":"ibmq_manila","x":0.84,"y":2.309},{"g":"ibmq_manila","x":0.846,"y":2.334},{"g":"ibmq_manila","x":0.852,"y":2.293},{"g":"ibmq_manila","x":0.858,"y":2.326},{"g":"ibmq_manila","x":0.864,"y":2.358},{"g":"ibmq_manila","x":0.87,"y":2.317},{"g":"ibmq_manila","x":0.873,"y":2.375},{"g":"ibmq_manila","x":0.879,"y":2.342},{"g":"ibmq_manila","x":0.885,"y":2.392},{"g":"ibmq_manila","x":0.891,"y":2.35},{"g":"ibmq_manila","x":0.897,"y":2.383},{"g":"ibmq_manila","x":0.9,"y":2.416},{"g":"ibmq_manila","x":0.906,"y":2.367},{"g":"ibmq_manila","x":0.912,"y":2.408},{"g":"ibmq_manila","x":0.918,"y":2.437},{"g":"ibmq_manila","x":0.924,"y":2.392},{"g":"ibmq_manila","x":0.93,"y":2.425},{"g":"ibmq_manila","x":0.933,"y":2.458},{"g":"ibmq_manila","x":0.942,"y":2.441},{"g":"ibmq_manila","x":0.948,"y":2.474},{"g":"ibmq_manila","x":0.954,"y":2.425},{"g":"ibmq_manila","x":0.96,"y":2.458},{"g":"ibmq_manila","x":0.969,"y":2.478},{"g":"ibmq_manila","x":0.975,"y":2.449},{"g":"ibmq_manila","x":0.984,"y":2.474},{"g":"ibmq_manila","x":0.993,"y":2.458},{"g":"ibmq_manila","x":0.876,"y":2.293},{"g":"ibmq_manila","x":0.852,"y":2.35},{"g":"ibmq_manila","x":0.827,"y":2.26},{"g":"ibmq_manila","x":0.84,"y":2.251},{"g":"ibmq_manila","x":0.864,"y":2.392},{"g":"ibmq_manila","x":0.912,"y":2.358},{"g":"ibmq_manila","x":0.936,"y":2.392},{"g":"ibmq_manila","x":0.891,"y":2.425},{"g":"ibmq_manila","x":0.804,"y":2.309},{"g":"ibmq_manila","x":0.942,"y":2.499},{"g":"ibmq_manila","x":0.96,"y":2.499},{"g":"ibmq_manila","x":0.815,"y":2.21},{"g":"ibmq_manila","x":0.797,"y":2.227},
{"g":"ibmq_manila","x":0.818,"y":2.285},{"g":"ibmq_manila","x":0.83,"y":2.3},{"g":"ibmq_manila","x":0.838,"y":2.318},{"g":"ibmq_manila","x":0.845,"y":2.3},{"g":"ibmq_manila","x":0.85,"y":2.325},{"g":"ibmq_manila","x":0.857,"y":2.34},{"g":"ibmq_manila","x":0.862,"y":2.33},{"g":"ibmq_manila","x":0.868,"y":2.35},{"g":"ibmq_manila","x":0.875,"y":2.36},{"g":"ibmq_manila","x":0.882,"y":2.368},{"g":"ibmq_manila","x":0.888,"y":2.375},{"g":"ibmq_manila","x":0.894,"y":2.395},{"g":"ibmq_manila","x":0.903,"y":2.4},{"g":"ibmq_manila","x":0.909,"y":2.39},{"g":"ibmq_manila","x":0.915,"y":2.42},{"g":"ibmq_manila","x":0.921,"y":2.41},{"g":"ibmq_manila","x":0.927,"y":2.44},{"g":"ibmq_manila","x":0.939,"y":2.455},{"g":"ibmq_manila","x":0.945,"y":2.46},{"g":"ibmq_manila","x":0.951,"y":2.445},{"g":"ibmq_manila","x":0.957,"y":2.47},{"g":"ibmq_manila","x":0.966,"y":2.462},{"g":"ibmq_manila","x":0.972,"y":2.48},{"g":"ibmq_manila","x":0.981,"y":2.49},{"g":"ibmq_manila","x":0.987,"y":2.46},{"g":"ibmq_manila","x":0.83,"y":2.27},{"g":"ibmq_manila","x":0.845,"y":2.275},{"g":"ibmq_manila","x":0.86,"y":2.305},{"g":"ibmq_manila","x":0.88,"y":2.33},{"g":"ibmq_manila","x":0.895,"y":2.355},
{"g":"C1 & C2 & C4","x":1.032,"y":2.552},{"g":"C1 & C2 & C4","x":1.062,"y":2.561},{"g":"C1 & C2 & C4","x":1.083,"y":2.575},{"g":"C1 & C2 & C4","x":1.071,"y":2.47},{"g":"C1 & C2 & C4","x":1.008,"y":2.416},{"g":"C1 & C2 & C4","x":1.011,"y":2.371},{"g":"C1 & C2 & C4","x":1.002,"y":2.334},{"g":"C1 & C2 & C4","x":1.005,"y":2.305},{"g":"C1 & C2 & C4","x":0.987,"y":2.346},{"g":"C1 & C2 & C4","x":0.989,"y":2.261},{"g":"C1 & C2 & C4","x":0.975,"y":2.297},{"g":"C1 & C2 & C4","x":0.96,"y":2.276},{"g":"C1 & C2 & C4","x":0.942,"y":2.251},{"g":"C1 & C2 & C4","x":0.924,"y":2.276},{"g":"C1 & C2 & C4","x":0.924,"y":2.182},{"g":"C1 & C2 & C4","x":0.897,"y":2.182},{"g":"C1 & C2 & C4","x":0.882,"y":2.231},{"g":"C1 & C2 & C4","x":0.858,"y":2.235},{"g":"C1 & C2 & C4","x":0.834,"y":2.235},{"g":"C1 & C2 & C4","x":0.822,"y":2.144},{"g":"C1 & C2 & C4","x":0.835,"y":2.086},{"g":"C1 & C2 & C4","x":0.817,"y":2.107},{"g":"C1 & C2 & C4","x":0.802,"y":2.177},{"g":"C1 & C2 & C4","x":0.767,"y":2.198},{"g":"C1 & C2 & C4","x":0.785,"y":2.235},{"g":"C1 & C2 & C4","x":0.809,"y":2.268},{"g":"C1 & C2 & C4","x":0.846,"y":2.272},{"g":"C1 & C2 & C4","x":0.87,"y":2.309},{"g":"C1 & C2 & C4","x":0.9,"y":2.317},{"g":"C1 & C2 & C4","x":0.93,"y":2.342},{"g":"C1 & C2 & C4","x":0.942,"y":2.478},{"g":"C1 & C2 & C4","x":0.918,"y":2.453},{"g":"C1 & C2 & C4","x":0.996,"y":2.507},{"g":"C1 & C2 & C4","x":1.02,"y":2.499},{"g":"C1 & C2 & C4","x":0.888,"y":2.412},{"g":"C1 & C2 & C4","x":0.866,"y":2.383},{"g":"C1 & C2 & C4","x":0.96,"y":2.371},{"g":"C1 & C2 & C4","x":0.978,"y":2.499},{"g":"C1 & C2 & C4","x":0.852,"y":2.202},{"g":"C1 & C2 & C4","x":0.912,"y":2.243},{"g":"C1 & C2 & C4","x":0.876,"y":2.26},{"g":"C1 & C2 & C4","x":0.858,"y":2.182},{"g":"C1 & C2 & C4","x":0.831,"y":2.202},
{"g":"C1 & C2 & C4","x":1.071,"y":2.47},{"g":"C1 & C2 & C4","x":1.005,"y":2.416},{"g":"C1 & C2 & C4","x":1.008,"y":2.375},{"g":"C1 & C2 & C4","x":0.99,"y":2.264},{"g":"C1 & C2 & C4","x":0.96,"y":2.28},{"g":"C1 & C2 & C4","x":0.975,"y":2.301},{"g":"C1 & C2 & C4","x":0.942,"y":2.482},{"g":"C1 & C2 & C4","x":0.924,"y":2.458},{"g":"C1 & C2 & C4","x":0.891,"y":2.416},{"g":"C1 & C2 & C4","x":0.87,"y":2.388},{"g":"C1 & C2 & C4","x":0.852,"y":2.342},{"g":"C1 & C2 & C4","x":0.852,"y":2.268},{"g":"C1 & C2 & C4","x":0.84,"y":2.235},{"g":"C1 & C2 & C4","x":0.821,"y":2.202},{"g":"C1 & C2 & C4","x":0.803,"y":2.235},{"g":"C1 & C2 & C4","x":0.767,"y":2.194},{"g":"C1 & C2 & C4","x":0.821,"y":2.144},{"g":"C1 & C2 & C4","x":0.836,"y":2.086},{"g":"C1 & C2 & C4","x":0.924,"y":2.218},{"g":"C1 & C2 & C4","x":0.897,"y":2.181},{"g":"C1 & C2 & C4","x":0.924,"y":2.181},{"g":"C1 & C2 & C4","x":0.876,"y":2.235},{"g":"C1 & C2 & C4","x":0.906,"y":2.227},{"g":"C1 & C2 & C4","x":0.957,"y":2.367},
{"g":"Baseline","x":1.3863,"y":2.8284}
],
"sb": [
{"g":"C1 & C2","x":2.565,"y":0.924},{"g":"C1 & C2","x":2.582,"y":0.894},{"g":"C1 & C2","x":2.607,"y":0.888},{"g":"C1 & C2","x":2.604,"y":0.862},{"g":"C1 & C2","x":2.619,"y":0.924},{"g":"C1 & C2","x":2.615,"y":0.913},{"g":"C1 & C2","x":2.628,"y":0.906},{"g":"C1 & C2","x":2.644,"y":0.915},{"g":"C1 & C2","x":2.661,"y":0.91},{"g":"C1 & C2","x":2.64,"y":0.935},{"g":"C1 & C2","x":2.665,"y":0.946},{"g":"C1 & C2","x":2.686,"y":0.968},{"g":"C1 & C2","x":2.707,"y":0.986},{"g":"C1 & C2","x":2.707,"y":0.972},{"g":"C1 & C2","x":2.694,"y":0.957},{"g":"C1 & C2","x":2.682,"y":0.939},{"g":"C1 & C2","x":2.698,"y":0.93},{"g":"C1 & C2","x":2.715,"y":0.932},{"g":"C1 & C2","x":2.723,"y":0.946},{"g":"C1 & C2","x":2.736,"y":0.957},{"g":"C1 & C2","x":2.744,"y":0.968},{"g":"C1 & C2","x":2.761,"y":0.976},{"g":"C1 & C2","x":2.777,"y":0.979},{"g":"C1 & C2","x":2.79,"y":0.985},{"g":"C1 & C2","x":2.802,"y":0.985},{"g":"C1 & C2","x":2.794,"y":0.977},{"g":"C1 & C2","x":2.769,"y":0.964},{"g":"C1 & C2","x":2.752,"y":0.953},{"g":"C1 & C2","x":2.736,"y":0.943},{"g":"C1 & C2","x":2.702,"y":0.95},{"g":"C1 & C2","x":2.677,"y":0.921},{"g":"C1 & C2","x":2.669,"y":0.932},{"g":"C1 & C2","x":2.652,"y":0.928},{"g":"C1 & C2","x":2.628,"y":0.932},{"g":"C1 & C2","x":2.636,"y":0.921},{"g":"C1 & C2","x":2.719,"y":0.96},{"g":"C1 & C2","x":2.731,"y":0.968},{"g":"C1 & C2","x":2.752,"y":0.968},{"g":"C1 & C2","x":2.777,"y":0.971},{"g":"C1 & C2","x":2.694,"y":0.939},{"g":"C1 & C2","x":2.69,"y":0.921},{"g":"C1 & C2","x":2.711,"y":0.946},{"g":"C1 & C2","x":2.652,"y":0.939},{"g":"C1 & C2","x":2.786,"y":0.976},{"g":"C1 & C2","x":2.761,"y":0.964},
{"g":"C1 & C3","x":2.125,"y":0.753},{"g":"C1 & C3","x":2.162,"y":0.738},{"g":"C1 & C3","x":2.195,"y":0.756},{"g":"C1 & C3","x":2.116,"y":0.714},{"g":"C1 & C3","x":2.104,"y":0.68},{"g":"C1 & C3","x":2.153,"y":0.667},{"g":"C1 & C3","x":2.178,"y":0.667},{"g":"C1 & C3","x":2.145,"y":0.658},{"g":"C1 & C3","x":2.203,"y":0.641},{"g":"C1 & C3","x":2.224,"y":0.66},{"g":"C1 & C3","x":2.257,"y":0.674},{"g":"C1 & C3","x":2.32,"y":0.683},{"g":"C1 & C3","x":2.282,"y":0.691},{"g":"C1 & C3","x":2.253,"y":0.784},{"g":"C1 & C3","x":2.315,"y":0.791},{"g":"C1 & C3","x":2.365,"y":0.817},{"g":"C1 & C3","x":2.452,"y":0.839},{"g":"C1 & C3","x":2.519,"y":0.846},{"g":"C1 & C3","x":2.49,"y":0.795},{"g":"C1 & C3","x":2.411,"y":0.758},{"g":"C1 & C3","x":2.361,"y":0.72},
{"g":"C1 & C3","x":1.924,"y":0.66},{"g":"C1 & C3","x":1.919,"y":0.607},{"g":"C1 & C3","x":2.165,"y":0.598},{"g":"C1 & C3","x":2.204,"y":0.641},{"g":"C1 & C3","x":2.225,"y":0.658},{"g":"C1 & C3","x":2.179,"y":0.667},{"g":"C1 & C3","x":2.15,"y":0.658},{"g":"C1 & C3","x":2.105,"y":0.68},{"g":"C1 & C3","x":2.117,"y":0.713},{"g":"C1 & C3","x":2.127,"y":0.753},{"g":"C1 & C3","x":2.161,"y":0.738},{"g":"C1 & C3","x":2.196,"y":0.756},{"g":"C1 & C3","x":2.163,"y":0.72},{"g":"C1 & C3","x":2.204,"y":0.702},{"g":"C1 & C3","x":2.179,"y":0.692},{"g":"C1 & C3","x":2.138,"y":0.685},{"g":"C1 & C3","x":2.279,"y":0.692},{"g":"C1 & C3","x":2.32,"y":0.683},{"g":"C1 & C3","x":2.254,"y":0.784},{"g":"C1 & C3","x":2.364,"y":0.815},{"g":"C1 & C3","x":2.316,"y":0.791},{"g":"C1 & C3","x":2.453,"y":0.839},{"g":"C1 & C3","x":2.524,"y":0.845},{"g":"C1 & C3","x":2.499,"y":0.795},{"g":"C1 & C3","x":2.495,"y":0.808},{"g":"C1 & C3","x":2.304,"y":0.705},{"g":"C1 & C3","x":2.229,"y":0.676},{"g":"C1 & C3","x":2.071,"y":0.678},{"g":"C1 & C3","x":2.403,"y":0.767},{"g":"C1 & C3","x":2.379,"y":0.822},{"g":"C1 & C3","x":2.437,"y":0.833},{"g":"C1 & C3","x":2.261,"y":0.709},{"g":"C1 & C3","x":2.246,"y":0.687},{"g":"C1 & C3","x":2.213,"y":0.672},{"g":"C1 & C3","x":2.188,"y":0.705},{"g":"C1 & C3","x":2.34,"y":0.76},{"g":"C1 & C3","x":2.42,"y":0.8},{"g":"C1 & C3","x":2.47,"y":0.82},{"g":"C1 & C3","x":2.28,"y":0.74},{"g":"C1 & C3","x":2.15,"y":0.7},
{"g":"C1 & C2 & C3","x":2.12,"y":0.764},{"g":"C1 & C2 & C3","x":2.174,"y":0.756},{"g":"C1 & C2 & C3","x":2.228,"y":0.762},{"g":"C1 & C2 & C3","x":2.203,"y":0.749},{"g":"C1 & C2 & C3","x":2.087,"y":0.716},{"g":"C1 & C2 & C3","x":2.149,"y":0.705},{"g":"C1 & C2 & C3","x":2.116,"y":0.669},{"g":"C1 & C2 & C3","x":2.137,"y":0.661},{"g":"C1 & C2 & C3","x":2.141,"y":0.643},{"g":"C1 & C2 & C3","x":2.191,"y":0.65},{"g":"C1 & C2 & C3","x":2.212,"y":0.665},{"g":"C1 & C2 & C3","x":2.286,"y":0.67},{"g":"C1 & C2 & C3","x":2.303,"y":0.672},{"g":"C1 & C2 & C3","x":2.361,"y":0.716},{"g":"C1 & C2 & C3","x":2.398,"y":0.738},{"g":"C1 & C2 & C3","x":2.378,"y":0.831},{"g":"C1 & C2 & C3","x":2.49,"y":0.853},{"g":"C1 & C2 & C3","x":2.544,"y":0.846},{"g":"C1 & C2 & C3","x":2.423,"y":0.826},{"g":"C1 & C2 & C3","x":2.452,"y":0.765},{"g":"C1 & C2 & C3","x":2.432,"y":0.764},{"g":"C1 & C2 & C3","x":2.336,"y":0.705},{"g":"C1 & C2 & C3","x":2.245,"y":0.716},
{"g":"C1 & C2 & C3","x":2.121,"y":0.763},{"g":"C1 & C2 & C3","x":2.086,"y":0.716},{"g":"C1 & C2 & C3","x":2.046,"y":0.647},{"g":"C1 & C2 & C3","x":2.1,"y":0.634},{"g":"C1 & C2 & C3","x":2.142,"y":0.645},{"g":"C1 & C2 & C3","x":2.113,"y":0.667},{"g":"C1 & C2 & C3","x":2.138,"y":0.665},{"g":"C1 & C2 & C3","x":2.192,"y":0.65},{"g":"C1 & C2 & C3","x":2.213,"y":0.667},{"g":"C1 & C2 & C3","x":2.179,"y":0.755},{"g":"C1 & C2 & C3","x":2.204,"y":0.749},{"g":"C1 & C2 & C3","x":2.229,"y":0.762},{"g":"C1 & C2 & C3","x":2.246,"y":0.758},{"g":"C1 & C2 & C3","x":2.154,"y":0.713},{"g":"C1 & C2 & C3","x":2.138,"y":0.694},{"g":"C1 & C2 & C3","x":2.208,"y":0.691},{"g":"C1 & C2 & C3","x":2.271,"y":0.672},{"g":"C1 & C2 & C3","x":2.287,"y":0.671},{"g":"C1 & C2 & C3","x":2.308,"y":0.674},{"g":"C1 & C2 & C3","x":2.379,"y":0.831},{"g":"C1 & C2 & C3","x":2.428,"y":0.829},{"g":"C1 & C2 & C3","x":2.491,"y":0.851},{"g":"C1 & C2 & C3","x":2.545,"y":0.846},{"g":"C1 & C2 & C3","x":2.453,"y":0.771},{"g":"C1 & C2 & C3","x":2.437,"y":0.767},{"g":"C1 & C2 & C3","x":2.337,"y":0.797},{"g":"C1 & C2 & C3","x":2.37,"y":0.811},{"g":"C1 & C2 & C3","x":2.287,"y":0.767},{"g":"C1 & C2 & C3","x":2.254,"y":0.731},{"g":"C1 & C2 & C3","x":2.221,"y":0.724},{"g":"C1 & C2 & C3","x":2.196,"y":0.705},{"g":"C1 & C2 & C3","x":2.32,"y":0.724},{"g":"C1 & C2 & C3","x":2.354,"y":0.738},{"g":"C1 & C2 & C3","x":2.403,"y":0.745},{"g":"C1 & C2 & C3","x":2.287,"y":0.713},{"g":"C1 & C2 & C3","x":2.171,"y":0.694},{"g":"C1 & C2 & C3","x":2.47,"y":0.804},{"g":"C1 & C2 & C3","x":2.503,"y":0.826},{"g":"C1 & C2 & C3","x":2.24,"y":0.7},{"g":"C1 & C2 & C3","x":2.33,"y":0.75},{"g":"C1 & C2 & C3","x":2.41,"y":0.79},
{"g":"ibmq_manila","x":1.914,"y":0.627},{"g":"ibmq_manila","x":2.012,"y":0.634},{"g":"ibmq_manila","x":2.022,"y":0.647},{"g":"ibmq_manila","x":2.04,"y":0.638},{"g":"ibmq_manila","x":2.055,"y":0.643},{"g":"ibmq_manila","x":2.071,"y":0.643},{"g":"ibmq_manila","x":2.088,"y":0.643},{"g":"ibmq_manila","x":2.069,"y":0.671},{"g":"ibmq_manila","x":2.165,"y":0.619},{"g":"ibmq_manila","x":2.177,"y":0.651},{"g":"ibmq_manila","x":2.171,"y":0.683},{"g":"ibmq_manila","x":2.2,"y":0.72},{"g":"ibmq_manila","x":2.229,"y":0.68},{"g":"ibmq_manila","x":2.254,"y":0.678},{"g":"ibmq_manila","x":2.275,"y":0.68},
{"g":"ibmq_manila","x":2.188,"y":0.702},{"g":"ibmq_manila","x":2.213,"y":0.709},{"g":"ibmq_manila","x":2.204,"y":0.72},{"g":"ibmq_manila","x":2.237,"y":0.716},{"g":"ibmq_manila","x":2.246,"y":0.731},{"g":"ibmq_manila","x":2.271,"y":0.724},{"g":"ibmq_manila","x":2.275,"y":0.738},{"g":"ibmq_manila","x":2.296,"y":0.731},{"g":"ibmq_manila","x":2.3,"y":0.745},{"g":"ibmq_manila","x":2.32,"y":0.738},{"g":"ibmq_manila","x":2.32,"y":0.753},{"g":"ibmq_manila","x":2.312,"y":0.76},{"g":"ibmq_manila","x":2.337,"y":0.767},{"g":"ibmq_manila","x":2.346,"y":0.778},{"g":"ibmq_manila","x":2.362,"y":0.771},{"g":"ibmq_manila","x":2.37,"y":0.786},{"g":"ibmq_manila","x":2.387,"y":0.793},{"g":"ibmq_manila","x":2.395,"y":0.782},{"g":"ibmq_manila","x":2.403,"y":0.8},{"g":"ibmq_manila","x":2.42,"y":0.797},{"g":"ibmq_manila","x":2.428,"y":0.808},{"g":"ibmq_manila","x":2.445,"y":0.815},{"g":"ibmq_manila","x":2.453,"y":0.824},{"g":"ibmq_manila","x":2.466,"y":0.818},{"g":"ibmq_manila","x":2.47,"y":0.829},{"g":"ibmq_manila","x":2.437,"y":0.793},{"g":"ibmq_manila","x":2.411,"y":0.786},{"g":"ibmq_manila","x":2.378,"y":0.764},{"g":"ibmq_manila","x":2.354,"y":0.76},{"g":"ibmq_manila","x":2.287,"y":0.756},{"g":"ibmq_manila","x":2.262,"y":0.705},{"g":"ibmq_manila","x":2.304,"y":0.713},{"g":"ibmq_manila","x":2.32,"y":0.72},{"g":"ibmq_manila","x":2.337,"y":0.745},{"g":"ibmq_manila","x":2.362,"y":0.756},{"g":"ibmq_manila","x":2.387,"y":0.771},{"g":"ibmq_manila","x":2.329,"y":0.782},{"g":"ibmq_manila","x":2.354,"y":0.793},{"g":"ibmq_manila","x":2.453,"y":0.804},{"g":"ibmq_manila","x":2.403,"y":0.811},{"g":"ibmq_manila","x":2.221,"y":0.694},{"g":"ibmq_manila","x":2.246,"y":0.687},{"g":"ibmq_manila","x":2.287,"y":0.694},
{"g":"ibmq_manila","x":2.195,"y":0.712},{"g":"ibmq_manila","x":2.215,"y":0.722},{"g":"ibmq_manila","x":2.228,"y":0.715},{"g":"ibmq_manila","x":2.24,"y":0.725},{"g":"ibmq_manila","x":2.255,"y":0.74},{"g":"ibmq_manila","x":2.265,"y":0.728},{"g":"ibmq_manila","x":2.283,"y":0.742},{"g":"ibmq_manila","x":2.292,"y":0.75},{"g":"ibmq_manila","x":2.308,"y":0.748},{"g":"ibmq_manila","x":2.315,"y":0.77},{"g":"ibmq_manila","x":2.325,"y":0.76},{"g":"ibmq_manila","x":2.33,"y":0.775},{"g":"ibmq_manila","x":2.342,"y":0.785},{"g":"ibmq_manila","x":2.35,"y":0.77},{"g":"ibmq_manila","x":2.358,"y":0.782},{"g":"ibmq_manila","x":2.366,"y":0.798},{"g":"ibmq_manila","x":2.375,"y":0.79},{"g":"ibmq_manila","x":2.382,"y":0.805},{"g":"ibmq_manila","x":2.392,"y":0.8},{"g":"ibmq_manila","x":2.398,"y":0.815},{"g":"ibmq_manila","x":2.41,"y":0.805},{"g":"ibmq_manila","x":2.415,"y":0.818},{"g":"ibmq_manila","x":2.425,"y":0.822},{"g":"ibmq_manila","x":2.433,"y":0.812},{"g":"ibmq_manila","x":2.442,"y":0.828},{"g":"ibmq_manila","x":2.458,"y":0.832},{"g":"ibmq_manila","x":2.28,"y":0.72},{"g":"ibmq_manila","x":2.3,"y":0.725},{"g":"ibmq_manila","x":2.27,"y":0.75},{"g":"ibmq_manila","x":2.345,"y":0.755},
{"g":"C1 & C2 & C4","x":2.178,"y":0.796},{"g":"C1 & C2 & C4","x":2.084,"y":0.681},{"g":"C1 & C2 & C4","x":2.105,"y":0.694},{"g":"C1 & C2 & C4","x":2.142,"y":0.698},{"g":"C1 & C2 & C4","x":2.142,"y":0.71},{"g":"C1 & C2 & C4","x":2.196,"y":0.74},{"g":"C1 & C2 & C4","x":2.246,"y":0.771},{"g":"C1 & C2 & C4","x":2.262,"y":0.791},{"g":"C1 & C2 & C4","x":2.293,"y":0.794},{"g":"C1 & C2 & C4","x":2.316,"y":0.814},{"g":"C1 & C2 & C4","x":2.344,"y":0.824},{"g":"C1 & C2 & C4","x":2.47,"y":0.845},{"g":"C1 & C2 & C4","x":2.495,"y":0.848},{"g":"C1 & C2 & C4","x":2.561,"y":0.859},{"g":"C1 & C2 & C4","x":2.551,"y":0.835},{"g":"C1 & C2 & C4","x":2.574,"y":0.888},{"g":"C1 & C2 & C4","x":2.51,"y":0.824},{"g":"C1 & C2 & C4","x":2.487,"y":0.8},{"g":"C1 & C2 & C4","x":2.478,"y":0.784},{"g":"C1 & C2 & C4","x":2.441,"y":0.753},{"g":"C1 & C2 & C4","x":2.387,"y":0.738},{"g":"C1 & C2 & C4","x":2.347,"y":0.704},{"g":"C1 & C2 & C4","x":2.343,"y":0.684},{"g":"C1 & C2 & C4","x":2.32,"y":0.694},{"g":"C1 & C2 & C4","x":2.229,"y":0.671},{"g":"C1 & C2 & C4","x":2.196,"y":0.668},{"g":"C1 & C2 & C4","x":2.183,"y":0.716},{"g":"C1 & C2 & C4","x":2.237,"y":0.731},{"g":"C1 & C2 & C4","x":2.275,"y":0.745},{"g":"C1 & C2 & C4","x":2.254,"y":0.756},{"g":"C1 & C2 & C4","x":2.32,"y":0.782},{"g":"C1 & C2 & C4","x":2.403,"y":0.804},{"g":"C1 & C2 & C4","x":2.42,"y":0.789},{"g":"C1 & C2 & C4","x":2.37,"y":0.767},{"g":"C1 & C2 & C4","x":2.21,"y":0.725},{"g":"C1 & C2 & C4","x":2.3,"y":0.76},{"g":"C1 & C2 & C4","x":2.44,"y":0.815},{"g":"C1 & C2 & C4","x":2.26,"y":0.735},{"g":"C1 & C2 & C4","x":2.23,"y":0.745},{"g":"C1 & C2 & C4","x":2.365,"y":0.79},{"g":"C1 & C2 & C4","x":2.5,"y":0.83},
{"g":"C1 & C2 & C4","x":2.257,"y":0.791},{"g":"C1 & C2 & C4","x":2.29,"y":0.795},{"g":"C1 & C2 & C4","x":2.315,"y":0.815},{"g":"C1 & C2 & C4","x":2.345,"y":0.824},{"g":"C1 & C2 & C4","x":2.245,"y":0.771},{"g":"C1 & C2 & C4","x":2.22,"y":0.742},{"g":"C1 & C2 & C4","x":2.174,"y":0.724},{"g":"C1 & C2 & C4","x":2.141,"y":0.711},{"g":"C1 & C2 & C4","x":2.104,"y":0.694},{"g":"C1 & C2 & C4","x":2.083,"y":0.681},{"g":"C1 & C2 & C4","x":2.195,"y":0.669},{"g":"C1 & C2 & C4","x":2.224,"y":0.687},{"g":"C1 & C2 & C4","x":2.32,"y":0.694},{"g":"C1 & C2 & C4","x":2.34,"y":0.685},{"g":"C1 & C2 & C4","x":2.345,"y":0.705},{"g":"C1 & C2 & C4","x":2.444,"y":0.753},{"g":"C1 & C2 & C4","x":2.469,"y":0.782},{"g":"C1 & C2 & C4","x":2.486,"y":0.8},{"g":"C1 & C2 & C4","x":2.502,"y":0.824},{"g":"C1 & C2 & C4","x":2.548,"y":0.835},{"g":"C1 & C2 & C4","x":2.411,"y":0.817},{"g":"C1 & C2 & C4","x":2.378,"y":0.735},{"g":"C1 & C2 & C4","x":2.378,"y":0.749},{"g":"C1 & C2 & C4","x":2.27,"y":0.749},{"g":"C1 & C2 & C4","x":2.245,"y":0.735},{"g":"C1 & C2 & C4","x":2.286,"y":0.738},
{"g":"Baseline","x":2.8284,"y":1.0}
]
}
}
